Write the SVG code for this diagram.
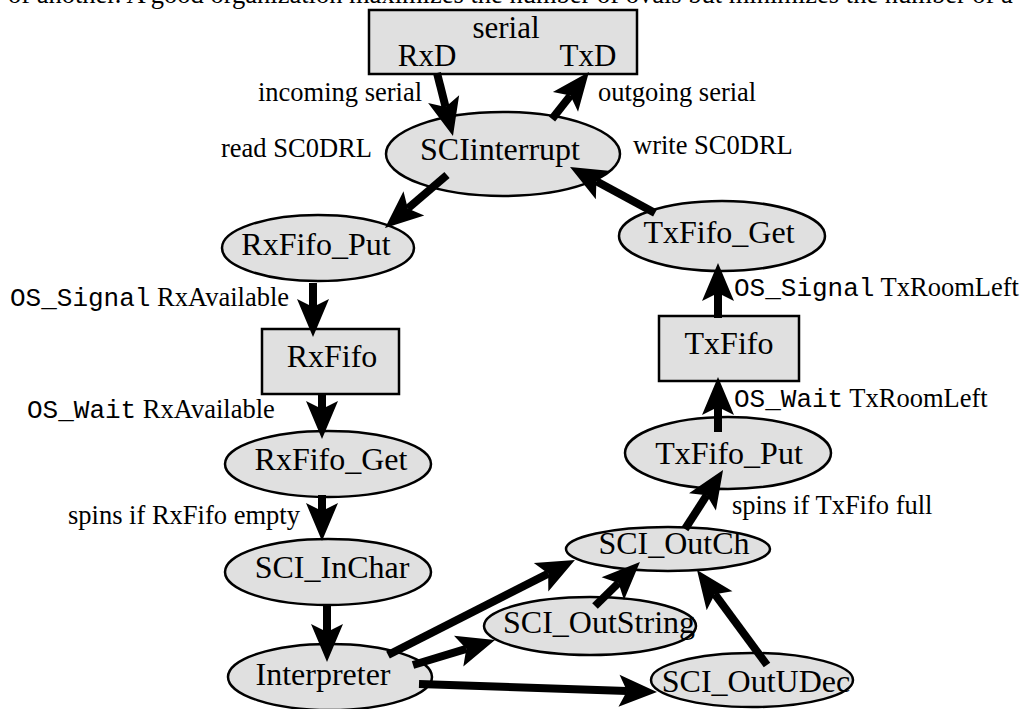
<svg xmlns="http://www.w3.org/2000/svg" width="1029" height="709" viewBox="0 0 1029 709">
<style>
  .nd { fill: #e0e0e0; stroke: #000; stroke-width: 2.5; }
  .nl { font-family: "Liberation Serif", "Times New Roman", serif; font-size: 32px; fill: #000; text-anchor: middle; }
  .bl { font-family: "Liberation Serif", "Times New Roman", serif; font-size: 31px; fill: #000; text-anchor: middle; }
  .el { font-family: "Liberation Serif", "Times New Roman", serif; font-size: 26.5px; fill: #000; }
  .mono { font-family: "Liberation Mono", "Courier New", monospace; font-size: 26px; }
  .ed { stroke: #000; stroke-width: 8; fill: none; marker-end: url(#ah); }
  .top { font-family: "Liberation Serif", "Times New Roman", serif; font-size: 26.5px; fill: #000; }
</style>
<defs>
  <marker id="ah" markerUnits="userSpaceOnUse" markerWidth="44" markerHeight="36" viewBox="-10 -18 44 36" refX="0" refY="0" orient="auto" overflow="visible">
    <path d="M30,0 L-8,-16 L0,0 L-8,16 Z" fill="#000"/>
  </marker>
</defs>
<rect width="1029" height="709" fill="#fff"/>
<text class="top" x="8" y="3">of another. A good organization maximizes the number of ovals but minimizes the number of a</text>

<g id="serial">
  <rect class="nd" x="369" y="10" width="268" height="64"/>
  <text class="bl" x="506" y="38">serial</text>
  <text class="bl" x="427" y="66">RxD</text>
  <text class="bl" x="588" y="66">TxD</text>
</g>
<g id="SCIinterrupt">
  <ellipse class="nd" cx="503" cy="154" rx="117" ry="42"/>
  <text class="nl" x="500" y="160">SCIinterrupt</text>
</g>
<g id="RxFifo_Put">
  <ellipse class="nd" cx="318" cy="248" rx="96" ry="33"/>
  <text class="nl" x="316" y="255">RxFifo_Put</text>
</g>
<g id="RxFifo">
  <rect class="nd" x="262" y="329" width="137" height="65"/>
  <text class="nl" x="332" y="367">RxFifo</text>
</g>
<g id="RxFifo_Get">
  <ellipse class="nd" cx="328" cy="464" rx="103" ry="33"/>
  <text class="nl" x="331" y="470">RxFifo_Get</text>
</g>
<g id="SCI_InChar">
  <ellipse class="nd" cx="328" cy="572" rx="103" ry="33"/>
  <text class="nl" x="332" y="578">SCI_InChar</text>
</g>
<g id="Interpreter">
  <ellipse class="nd" cx="330" cy="677" rx="102" ry="33"/>
  <text class="nl" x="323" y="685">Interpreter</text>
</g>
<g id="TxFifo_Get">
  <ellipse class="nd" cx="722" cy="236" rx="103" ry="35"/>
  <text class="nl" x="719" y="243">TxFifo_Get</text>
</g>
<g id="TxFifo">
  <rect class="nd" x="659" y="316" width="140" height="65"/>
  <text class="nl" x="729" y="354">TxFifo</text>
</g>
<g id="TxFifo_Put">
  <ellipse class="nd" cx="728" cy="453" rx="103" ry="36"/>
  <text class="nl" x="729" y="464">TxFifo_Put</text>
</g>
<g id="SCI_OutCh">
  <ellipse class="nd" cx="668" cy="549" rx="102" ry="22"/>
  <text class="nl" x="674" y="554">SCI_OutCh</text>
</g>
<g id="SCI_OutString">
  <ellipse class="nd" cx="590" cy="626" rx="106" ry="29"/>
  <text class="nl" x="599" y="633">SCI_OutString</text>
</g>
<g id="SCI_OutUDec">
  <ellipse class="nd" cx="752" cy="680" rx="101" ry="27"/>
  <text class="nl" x="756" y="692">SCI_OutUDec</text>
</g>

<g id="connectors">
  <line class="ed" x1="437" y1="73" x2="445.6" y2="106.9"/>
  <line class="ed" x1="552" y1="119" x2="570.4" y2="95.6"/>
  <line class="ed" x1="447" y1="175" x2="407.8" y2="208.5"/>
  <line class="ed" x1="655" y1="213" x2="596.4" y2="181.3"/>
  <line class="ed" x1="313" y1="283" x2="313" y2="307"/>
  <line class="ed" x1="322" y1="394" x2="322" y2="409"/>
  <line class="ed" x1="322" y1="495" x2="322" y2="511"/>
  <line class="ed" x1="327" y1="604" x2="327" y2="632"/>
  <line class="ed" x1="388" y1="655" x2="548.2" y2="573.6"/>
  <line class="ed" x1="413" y1="665" x2="466.3" y2="648.8"/>
  <line class="ed" x1="419" y1="684" x2="627" y2="691"/>
  <line class="ed" x1="595" y1="606" x2="618.5" y2="583"/>
  <line class="ed" x1="767" y1="665" x2="714.8" y2="594.2"/>
  <line class="ed" x1="685" y1="529" x2="706.8" y2="495.2"/>
  <line class="ed" x1="718" y1="432" x2="718" y2="407"/>
  <line class="ed" x1="718" y1="318" x2="718" y2="293"/>

  <text class="el" x="258" y="101">incoming serial</text>
  <text class="el" x="598" y="101">outgoing serial</text>
  <text class="el" x="221" y="157">read SC0DRL</text>
  <text class="el" x="633" y="154">write SC0DRL</text>
  <text class="el" x="10" y="306"><tspan class="mono">OS_Signal</tspan> RxAvailable</text>
  <text class="el" x="27" y="418"><tspan class="mono">OS_Wait</tspan> RxAvailable</text>
  <text class="el" x="68" y="524">spins if RxFifo empty</text>
  <text class="el" x="734" y="296"><tspan class="mono">OS_Signal</tspan> TxRoomLeft</text>
  <text class="el" x="734" y="407"><tspan class="mono">OS_Wait</tspan> TxRoomLeft</text>
  <text class="el" x="732" y="514">spins if TxFifo full</text>
</g>
</svg>
